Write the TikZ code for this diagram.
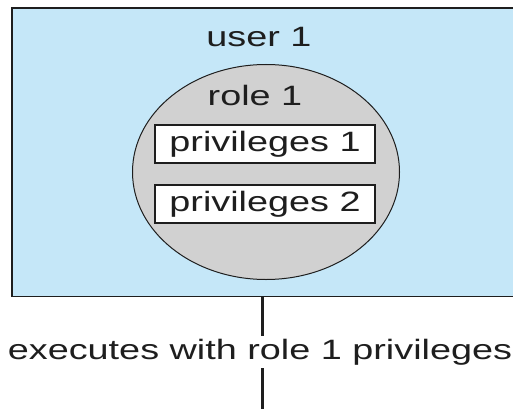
\documentclass[tikz,border=0pt]{standalone}
\usepackage{fontspec}
\setmainfont{Liberation Sans}[FakeStretch=1.35]
\usepackage{tikz}
\usepackage{xcolor}
\usetikzlibrary{positioning,shapes.geometric}
\definecolor{userblue}{RGB}{197,231,248}
\definecolor{rolegray}{RGB}{209,209,209}
\definecolor{inkline}{RGB}{30,30,30}

\begin{document}
\begin{tikzpicture}[
      x=1pt,y=-1pt,
      label/.style={font=\fontsize{28}{30}\selectfont,text=inkline,inner sep=0pt},
      privbox/.style={draw=inkline,line width=1.4pt,fill=white,minimum width=220pt,
                      minimum height=38pt,inner sep=0pt,font=\fontsize{28}{30}\selectfont,
                      text=inkline},
      conn/.style={draw=inkline,line width=3pt}
    ]
    \useasboundingbox (0,0) rectangle (513,409);
    \node[fill=userblue,minimum width=501pt,minimum height=288pt,inner sep=0pt,
          anchor=north west] (userbox) at (12,8) {};
    \draw[inkline,line width=1.4pt] (userbox.north east) -- (userbox.north west)
      -- (userbox.south west) -- (userbox.south east);
    \node[label] (user) at (259,37) {user 1};
    \node[ellipse,draw=inkline,line width=1pt,fill=rolegray,minimum width=267pt,
          minimum height=215pt,inner sep=0pt] (role) at (266,172) {};
    \node[label] (rolename) at (255,95) {role 1};
    \node[privbox] (privone) at (265,144) {privileges 1};
    \node[privbox] (privtwo) at (265,204) {privileges 2};
    \node[label,minimum height=32pt] (exec) at (260,352) {executes with role 1 privileges};
    \coordinate (bottom) at (262,409);
    \draw[conn] (userbox.south -| bottom) -- (exec.north -| bottom);
    \draw[conn] (exec.south -| bottom) -- (bottom);
  \end{tikzpicture}
\end{document}
